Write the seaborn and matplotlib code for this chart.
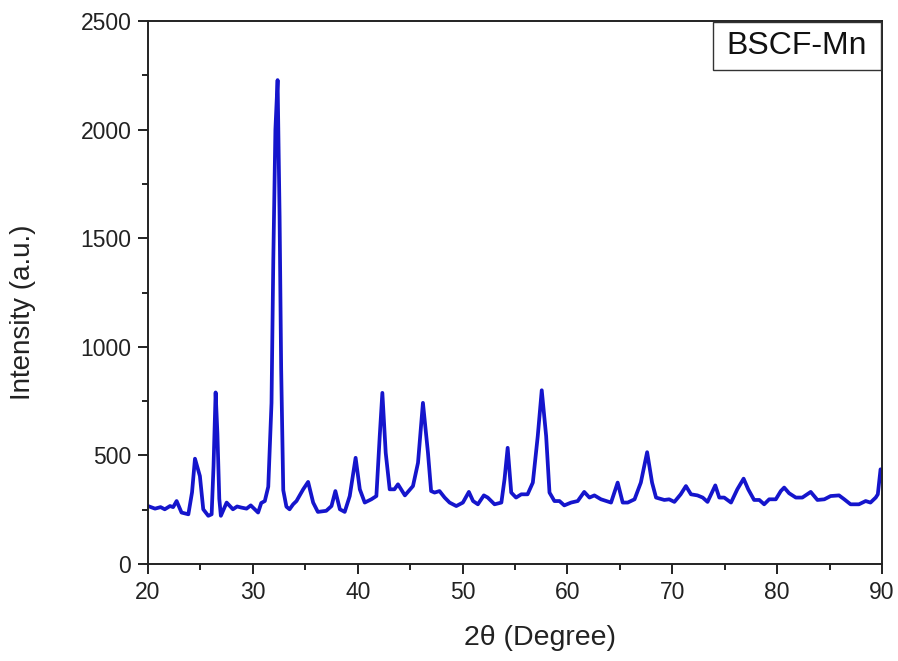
import matplotlib
matplotlib.use("Agg")
import matplotlib.pyplot as plt
import seaborn as sns
import pandas as pd
from matplotlib.ticker import MultipleLocator
from matplotlib.patches import Rectangle

two_theta = [
    20.0, 20.67, 21.2, 21.6, 22.1, 22.4, 22.73, 23.2, 23.85, 24.2, 24.48, 24.95,
    25.27, 25.75, 26.07, 26.25, 26.45, 26.62, 26.8, 26.95, 27.5, 28.1, 28.5, 28.9,
    29.4, 29.8, 30.5, 30.8, 31.14, 31.47, 31.78, 31.95, 32.15, 32.36, 32.55, 32.7,
    32.9, 33.2, 33.5, 33.84, 34.16, 34.8, 35.27, 35.75, 36.2, 37.0, 37.5, 37.87,
    38.3, 38.76, 39.24, 39.8, 40.2, 40.67, 41.3, 41.78, 42.1, 42.35, 42.67, 43.05,
    43.5, 43.84, 44.5, 45.27, 45.75, 46.22, 46.7, 47.0, 47.33, 47.8, 48.29, 48.76,
    49.4, 50.03, 50.6, 51.0, 51.46, 52.03, 52.4, 53.05, 53.7, 54.0, 54.3, 54.64,
    55.1, 55.6, 56.2, 56.7, 57.17, 57.55, 57.97, 58.29, 58.76, 59.24, 59.7, 60.35,
    60.98, 61.6, 62.1, 62.57, 63.2, 64.16, 64.79, 65.27, 65.75, 66.4, 67.0, 67.6,
    68.07, 68.45, 69.24, 69.7, 70.2, 70.8, 71.3, 71.78, 72.4, 72.9, 73.36, 74.1,
    74.48, 74.95, 75.6, 76.2, 76.8, 77.24, 77.8, 78.3, 78.76, 79.24, 79.87, 80.35,
    80.67, 81.14, 81.78, 82.4, 83.2, 83.84, 84.5, 85.1, 85.9, 86.4, 87.0, 87.8,
    88.44, 88.9, 89.4, 89.6, 89.86, 90.0,
]
intensity = [
    267, 255, 262, 252, 267, 262, 290, 237, 229, 330, 485, 405,
    252, 222, 229, 450, 790, 600, 300, 222, 283, 252, 265, 260,
    255, 270, 237, 281, 290, 356, 742, 1400, 2000, 2228, 1600, 900,
    340, 264, 252, 275, 290, 344, 378, 283, 240, 245, 267, 336,
    252, 240, 313, 489, 344, 283, 298, 313, 589, 788, 512, 344,
    344, 367, 316, 359, 466, 742, 512, 336, 329, 336, 306, 283,
    267, 283, 332, 290, 275, 316, 306, 275, 283, 390, 535, 329,
    306, 321, 321, 375, 589, 800, 589, 329, 290, 290, 270, 283,
    290, 332, 306, 316, 298, 283, 375, 283, 283, 298, 375, 515,
    375, 306, 295, 298, 286, 321, 359, 321, 316, 306, 286, 362,
    306, 306, 283, 344, 393, 344, 295, 295, 275, 298, 298, 336,
    352, 326, 306, 306, 332, 295, 298, 313, 316, 298, 275, 275,
    290, 283, 306, 321, 436, 430,
]
sample_label = "BSCF-Mn"
x_label = "2\u03b8 (Degree)"
y_label = "Intensity (a.u.)"

sns.set_theme(style="white")
plt.rcParams["font.family"] = ["Liberation Sans", "DejaVu Sans"]

df = pd.DataFrame({"two_theta": two_theta, "intensity": intensity})

fig = plt.figure(figsize=(8.98, 6.61), dpi=100)
ax = fig.add_axes([0.1648, 0.1467, 0.8174, 0.8215])

sns.lineplot(data=df, x="two_theta", y="intensity", ax=ax, color="#1515CC",
             linewidth=2.7, sort=False, estimator=None)

ax.set_xlim(20, 90)
ax.set_ylim(0, 2500)
ax.xaxis.set_major_locator(MultipleLocator(10))
ax.xaxis.set_minor_locator(MultipleLocator(5))
ax.yaxis.set_major_locator(MultipleLocator(500))
ax.yaxis.set_minor_locator(MultipleLocator(250))

for s in ax.spines.values():
    s.set_color("#222222")
    s.set_linewidth(1.4)

ax.tick_params(axis="both", which="major", direction="out", length=7, width=1.4,
               colors="#222222", labelsize=16.5, bottom=True, left=True,
               top=False, right=False, pad=5)
ax.tick_params(axis="both", which="minor", direction="out", length=4, width=1.4,
               colors="#222222", bottom=True, left=True, top=False, right=False)
for lbl in ax.get_xticklabels() + ax.get_yticklabels():
    lbl.set_color("#222222")

ax.set_xlabel(x_label, fontsize=20.5, color="#222222")
ax.set_ylabel(y_label, fontsize=20, color="#222222")
ax.xaxis.set_label_coords(0.534, -0.112)
ax.yaxis.set_label_coords(-0.152, 0.464)

ax.add_patch(Rectangle((0.770, 0.910), 0.228, 0.088, transform=ax.transAxes,
                       facecolor="white", edgecolor="#333333", linewidth=1.0, zorder=5))
ax.text(0.884, 0.954, sample_label, transform=ax.transAxes, ha="center", va="center",
        fontsize=23, color="#111111", zorder=6)

fig.savefig("out.png", dpi=100)
